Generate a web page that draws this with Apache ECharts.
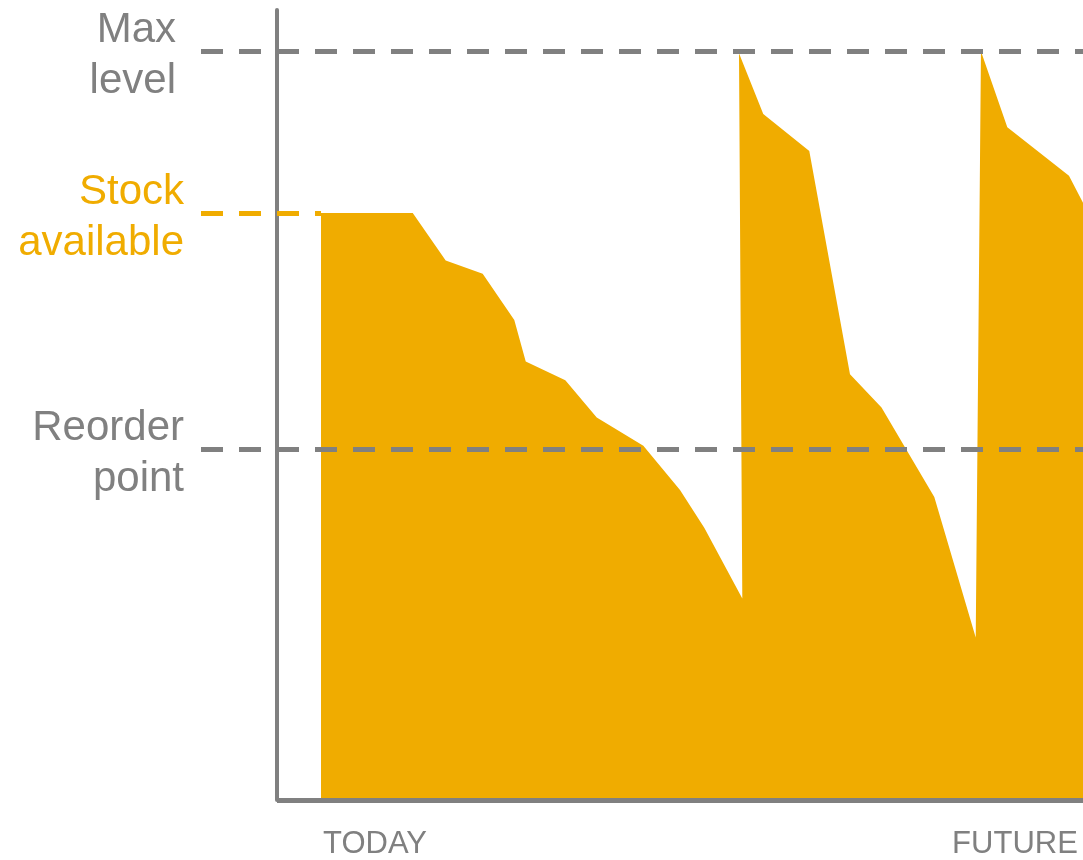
<!DOCTYPE html>
<html>
<head>
<meta charset="utf-8">
<script src="https://cdn.jsdelivr.net/npm/echarts@6.0.0/dist/echarts.min.js"></script>
<style>
html,body{margin:0;padding:0;background:#ffffff;}
#chart{width:1083px;height:860px;}
</style>
</head>
<body>
<div id="chart"></div>
<script>
// ---- data ----
const stockX = [5.46, 16.84, 20.93, 25.52, 29.44, 30.86, 35.77, 39.67, 45.45, 50.0, 53.01, 57.73, 57.32, 60.33, 66.04, 71.09, 75.0, 81.55, 86.69, 87.34, 90.61, 98.26, 100];
const stockY = [78.4, 78.4, 72.04, 70.27, 64.09, 58.55, 56.06, 51.09, 47.31, 41.41, 36.35, 26.90, 99.73, 91.61, 86.68, 56.86, 52.42, 40.48, 21.70, 100.0, 89.84, 83.36, 79.76];
const levelNames = [['Max', 'level'], ['Stock', 'available'], ['Reorder', 'point']];
const levelValues = [100, 78.4, 46.9];
const timeLabels = ['TODAY', 'FUTURE'];
const timeLabelX = [12.16, 91.56];
const X_MIN = -9.43, X_MAX = 100, Y_MAX = 105.5;

const GRAY = '#808080';
const ORANGE = '#F0AC00';
const FONT = '"Liberation Sans", Arial, sans-serif';

const seriesData = stockX.map((x, i) => [x, stockY[i]]);

const dashed = (color) => ({ type: [22, 16], width: 5, color: color, cap: 'butt' });
const sideLabel = (lines, color, dist) => ({
  show: true, position: 'start',
  formatter: '{a|' + lines[0] + '}\n{b|' + lines[1] + '}',
  distance: dist,
  rich: {
    a: { color: color, fontSize: 42, lineHeight: 61, fontFamily: FONT },
    b: { color: color, fontSize: 42, lineHeight: 41, fontFamily: FONT }
  }
});

const chart = echarts.init(document.getElementById('chart'), null, { renderer: 'canvas' });
chart.setOption({
  animation: false,
  backgroundColor: '#ffffff',
  grid: { left: 201, right: 0, top: 10, bottom: 58, containLabel: false },
  xAxis: {
    type: 'value', min: X_MIN, max: X_MAX,
    axisLine: { show: false },
    axisTick: { show: false },
    splitLine: { show: false },
    axisLabel: {
      show: true,
      customValues: timeLabelX,
      formatter: (v) => {
        const i = timeLabelX.findIndex(t => Math.abs(t - v) < 1e-6);
        return i >= 0 ? timeLabels[i] : '';
      },
      color: GRAY, fontSize: 31, fontFamily: FONT, margin: 29,
      showMinLabel: true, showMaxLabel: true, hideOverlap: false
    }
  },
  yAxis: {
    type: 'value', min: 0, max: Y_MAX,
    axisLine: { show: true, onZero: true, lineStyle: { color: GRAY, width: 4 } },
    axisTick: { show: false },
    axisLabel: { show: false },
    splitLine: { show: false }
  },
  series: [{
    type: 'line',
    data: seriesData,
    showSymbol: false,
    symbol: 'none',
    clip: false,
    lineStyle: { width: 0, color: ORANGE },
    areaStyle: { color: ORANGE, opacity: 1 },
    silent: true,
    markLine: {
      silent: true,
      symbol: ['none', 'none'],
      animation: false,
      data: [
        [{ coord: [0, 0], lineStyle: { type: 'solid', width: 5, color: GRAY }, label: { show: false } },
         { coord: [X_MAX, 0] }],
        { yAxis: levelValues[0], lineStyle: dashed(GRAY), label: sideLabel(levelNames[0], GRAY, 25) },
        [{ coord: [X_MIN, levelValues[1]], lineStyle: dashed(ORANGE), label: sideLabel(levelNames[1], ORANGE, 17) },
         { coord: [stockX[0], levelValues[1]] }],
        { yAxis: levelValues[2], lineStyle: dashed(GRAY), label: sideLabel(levelNames[2], GRAY, 17) }
      ]
    }
  }]
});
</script>
</body>
</html>
